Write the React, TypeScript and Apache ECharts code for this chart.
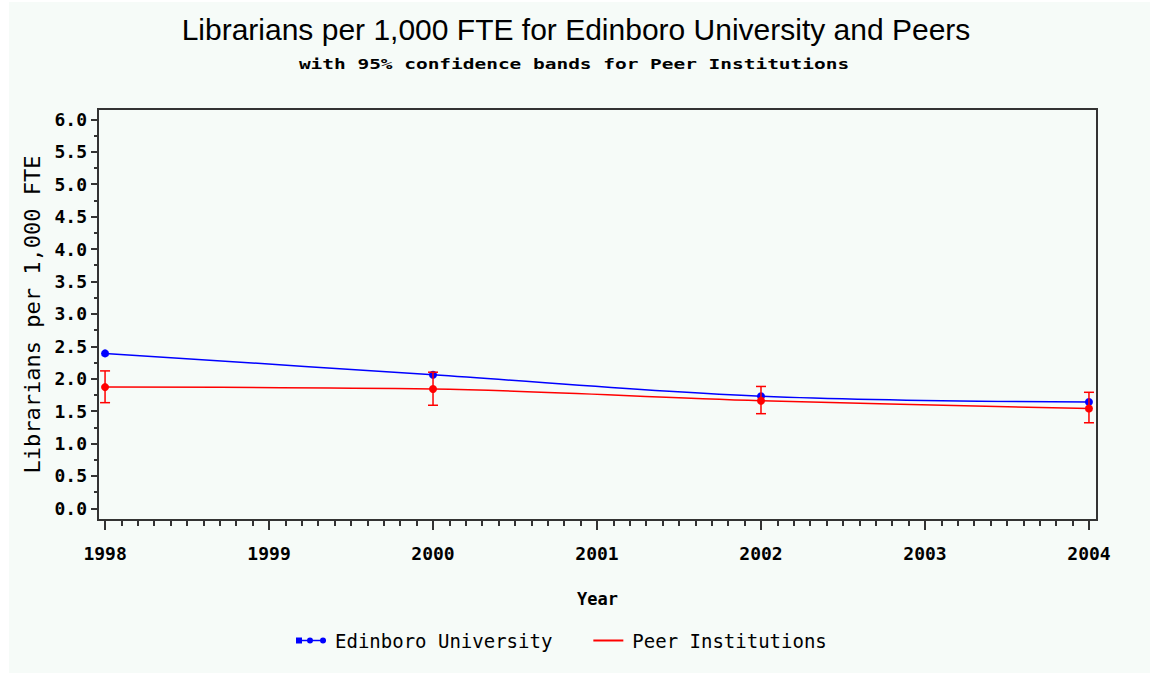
import React, { useEffect, useRef } from "react";
import * as echarts from "echarts";

const years = [1998, 2000, 2002, 2004];
const edinboro = [2.39, 2.06, 1.73, 1.64];
const peers = [1.87, 1.84, 1.66, 1.54];
const peerLow = [1.63, 1.59, 1.46, 1.32];
const peerHigh = [2.12, 2.1, 1.88, 1.79];
const xTickYears = [1998, 1999, 2000, 2001, 2002, 2003, 2004];
const yTickValues = [0, 0.5, 1, 1.5, 2, 2.5, 3, 3.5, 4, 4.5, 5, 5.5, 6];

const titleText = "Librarians per 1,000 FTE for Edinboro University and Peers";
const subtitleText = "with 95% confidence bands for Peer Institutions";

const MONO = '"DejaVu Sans Mono", monospace';
const AXIS_COLOR = "#333333";

export default function App() {
  const ref = useRef<HTMLDivElement>(null);
  useEffect(() => {
    document.body.style.margin = "0";
    if (!ref.current) return;
    const chart = echarts.init(ref.current, null, { renderer: "svg" });

    const xMinor: number[] = [];
    for (let y = 1998; y < 2004; y++) {
      for (let k = 1; k < 10; k++) xMinor.push(+(y + k / 10).toFixed(2));
    }
    const yMinor: number[] = [];
    for (let i = 0; i < yTickValues.length - 1; i++) {
      yMinor.push((yTickValues[i] + yTickValues[i + 1]) / 2);
    }

    const xMin = 1997.957;
    const xMax = 2004.049;
    const yMin = -0.18;
    const yMax = 6.16;

    const errData = years.map((y, i) => [y, peerLow[i], peerHigh[i]]);

    const edIcon =
      "path://M0,3.2h30v1.6h-30z M0,1h6v6h-6z M11,4a3,3 0 1,1 6,0a3,3 0 1,1 -6,0z M24,4a3,3 0 1,1 6,0a3,3 0 1,1 -6,0z";
    const peerIcon = "path://M0,0h30v2h-30z";

    const option: any = {
      animation: false,
      backgroundColor: "#ffffff",
      graphic: [
        {
          type: "rect",
          z: -10,
          silent: true,
          shape: { x: 9, y: 2, width: 1141, height: 671 },
          style: { fill: "#f6fbf8" },
        },
        {
          type: "text",
          x: 576,
          y: 29,
          scaleX: 1.0,
          style: {
            text: titleText,
            fontFamily: '"Liberation Sans", Arial, sans-serif',
            fontSize: 30,
            fill: "#000",
            align: "center",
            verticalAlign: "middle",
          },
        },
        {
          type: "text",
          x: 574,
          y: 64,
          scaleX: 1.39,
          style: {
            text: subtitleText,
            fontFamily: MONO,
            fontWeight: "bold",
            fontSize: 14,
            fill: "#000",
            align: "center",
            verticalAlign: "middle",
          },
        },
      ],
      grid: {
        left: 98,
        right: 59,
        top: 109,
        bottom: 159,
        show: true,
        backgroundColor: "transparent",
        borderColor: AXIS_COLOR,
        borderWidth: 2,
      },
      legend: {
        left: 291,
        top: 626,
        itemWidth: 30,
        itemHeight: 7,
        itemGap: 41,
        data: [
          { name: "Edinboro University", icon: edIcon },
          { name: "Peer Institutions", icon: peerIcon },
        ],
        textStyle: {
          fontFamily: MONO,
          fontSize: 19,
          color: "#000",
          padding: [0, 0, 0, 4],
        },
      },
      xAxis: [
        {
          type: "value",
          min: xMin,
          max: xMax,
          name: "Year",
          nameLocation: "middle",
          nameGap: 70,
          nameTextStyle: {
            fontFamily: MONO,
            fontWeight: "bold",
            fontSize: 17,
            color: "#000",
          },
          axisLine: { show: true, onZero: false, lineStyle: { color: AXIS_COLOR, width: 2 } },
          axisTick: {
            show: true,
            length: 10,
            customValues: xTickYears,
            lineStyle: { color: AXIS_COLOR, width: 2 },
          },
          axisLabel: {
            show: true,
            customValues: xTickYears,
            margin: 24,
            formatter: (v: number) => String(Math.round(v)),
            fontFamily: MONO,
            fontWeight: "bold",
            fontSize: 18,
            color: "#000",
          },
          splitLine: { show: false },
        },
        {
          type: "value",
          min: xMin,
          max: xMax,
          position: "bottom",
          axisLine: { show: false, onZero: false },
          axisTick: {
            show: true,
            length: 6,
            customValues: xMinor,
            lineStyle: { color: AXIS_COLOR, width: 2 },
          },
          axisLabel: { show: false },
          splitLine: { show: false },
        },
      ],
      yAxis: [
        {
          type: "value",
          min: yMin,
          max: yMax,
          name: "Librarians per 1,000 FTE",
          nameLocation: "middle",
          nameGap: 55,
          nameTextStyle: {
            fontFamily: MONO,
            fontSize: 22,
            color: "#000",
          },
          axisLine: { show: true, onZero: false, lineStyle: { color: AXIS_COLOR, width: 2 } },
          axisTick: {
            show: true,
            length: 7,
            customValues: yTickValues,
            lineStyle: { color: AXIS_COLOR, width: 2 },
          },
          axisLabel: {
            show: true,
            customValues: yTickValues,
            margin: 11,
            formatter: (v: number) => v.toFixed(1),
            fontFamily: MONO,
            fontWeight: "bold",
            fontSize: 18,
            color: "#000",
          },
          splitLine: { show: false },
        },
        {
          type: "value",
          min: yMin,
          max: yMax,
          position: "left",
          axisLine: { show: false, onZero: false },
          axisTick: {
            show: true,
            length: 4,
            customValues: yMinor,
            lineStyle: { color: AXIS_COLOR, width: 2 },
          },
          axisLabel: { show: false },
          splitLine: { show: false },
        },
      ],
      series: [
        {
          name: "Peer Institutions",
          type: "line",
          data: years.map((y, i) => [y, peers[i]]),
          smooth: 0.35,
          symbol: "circle",
          symbolSize: 8,
          color: "#ff0000",
          lineStyle: { color: "#ff0000", width: 1.5 },
          itemStyle: { color: "#ff0000" },
          z: 3,
        },
        {
          name: "Peer CI",
          type: "custom",
          data: errData,
          encode: { x: 0, y: [1, 2] },
          z: 4,
          renderItem: (params: any, api: any) => {
            const x = api.value(0);
            const lo = api.coord([x, api.value(1)]);
            const hi = api.coord([x, api.value(2)]);
            const cap = 5;
            const style = { stroke: "#ff0000", lineWidth: 1.5 };
            return {
              type: "group",
              children: [
                { type: "line", shape: { x1: lo[0], y1: lo[1], x2: hi[0], y2: hi[1] }, style },
                { type: "line", shape: { x1: lo[0] - cap, y1: lo[1], x2: lo[0] + cap, y2: lo[1] }, style },
                { type: "line", shape: { x1: hi[0] - cap, y1: hi[1], x2: hi[0] + cap, y2: hi[1] }, style },
              ],
            };
          },
        },
        {
          name: "Edinboro University",
          type: "line",
          data: years.map((y, i) => [y, edinboro[i]]),
          smooth: 0.35,
          symbol: "circle",
          symbolSize: 8,
          color: "#0000ff",
          lineStyle: { color: "#0000ff", width: 1.5 },
          itemStyle: { color: "#0000ff" },
          z: 2,
        },
      ],
    };

    chart.setOption(option);
    return () => chart.dispose();
  }, []);

  return <div ref={ref} style={{ width: 1156, height: 679 }} />;
}
